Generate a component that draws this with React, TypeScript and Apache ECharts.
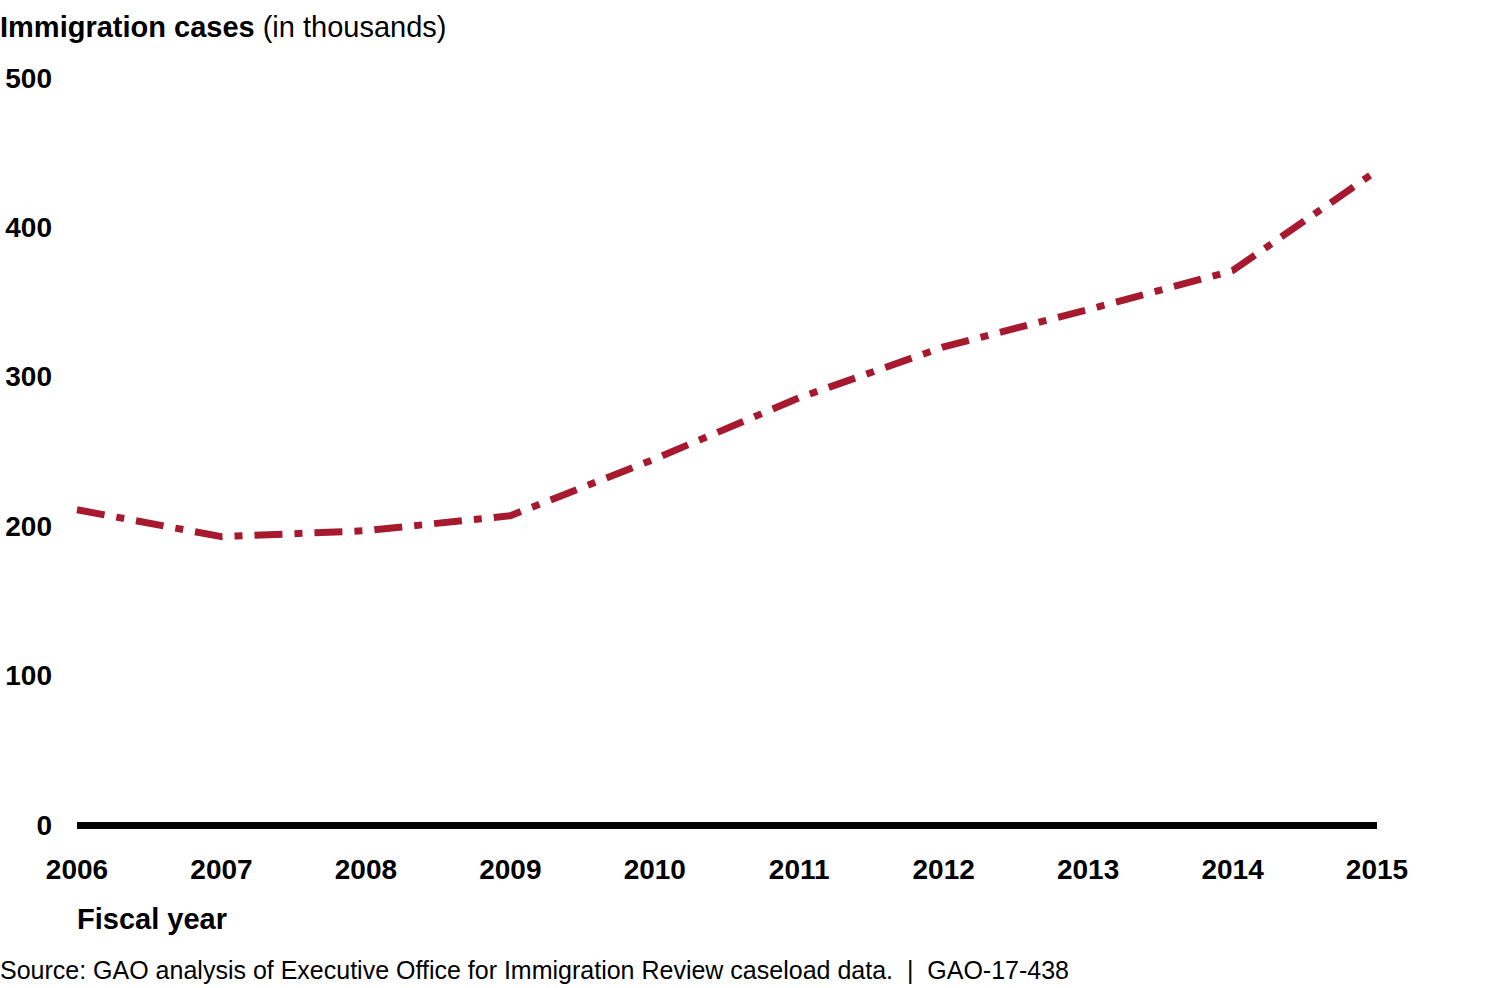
import React from "react";
import * as echarts from "echarts";

const years = ["2006", "2007", "2008", "2009", "2010", "2011", "2012", "2013", "2014", "2015"];
const cases = [211, 193, 197, 207, 245, 286, 320, 345, 371, 438];
const yTicks = [0, 100, 200, 300, 400, 500];

const FONT = "'Liberation Sans', Arial, sans-serif";
const RED = "#A6192E";

export default function App() {
  const ref = React.useRef<HTMLDivElement>(null);

  React.useEffect(() => {
    const el = ref.current;
    if (!el) return;
    const chart = echarts.init(el, undefined, { renderer: "svg" });
    chart.setOption({
      animation: false,
      grid: { left: 77, right: 118, top: 78, bottom: 163 },
      xAxis: {
        type: "category",
        data: years,
        boundaryGap: false,
        axisLine: { show: true, lineStyle: { color: "#000", width: 7, cap: "butt" } },
        axisTick: { show: false },
        axisLabel: {
          color: "#000",
          fontFamily: FONT,
          fontWeight: "bold",
          fontSize: 28,
          margin: 30,
        },
        splitLine: { show: false },
      },
      yAxis: {
        type: "value",
        min: yTicks[0],
        max: yTicks[yTicks.length - 1],
        interval: 100,
        axisLine: { show: false },
        axisTick: { show: false },
        splitLine: { show: false },
        axisLabel: {
          color: "#000",
          fontFamily: FONT,
          fontWeight: "bold",
          fontSize: 28,
          align: "right",
          margin: 25,
        },
      },
      series: [
        {
          type: "line",
          data: cases,
          symbol: "none",
          lineStyle: { color: RED, width: 7, type: [28, 12, 8, 12], cap: "butt" },
          z: 1,
        },
      ],
      graphic: [
        {
          type: "text",
          left: 0,
          top: 12,
          style: {
            rich: {
              b: { fontFamily: FONT, fontWeight: "bold", fontSize: 29, fill: "#000" },
              n: { fontFamily: FONT, fontSize: 29, fill: "#000" },
            },
            text: "{b|Immigration cases}{n| (in thousands)}",
          },
        },
        {
          type: "text",
          left: 77,
          top: 904,
          style: { text: "Fiscal year", fontFamily: FONT, fontWeight: "bold", fontSize: 29, fill: "#000" },
        },
        {
          type: "text",
          left: 0,
          top: 957,
          style: {
            text: "Source: GAO analysis of Executive Office for Immigration Review caseload data.  |  GAO-17-438",
            fontFamily: FONT,
            fontSize: 25,
            fill: "#000",
          },
        },
      ],
    });
    return () => chart.dispose();
  }, []);

  return (
    <div
      ref={ref}
      style={{ position: "fixed", left: 0, top: 0, width: 1495, height: 988, background: "#fff" }}
    />
  );
}
